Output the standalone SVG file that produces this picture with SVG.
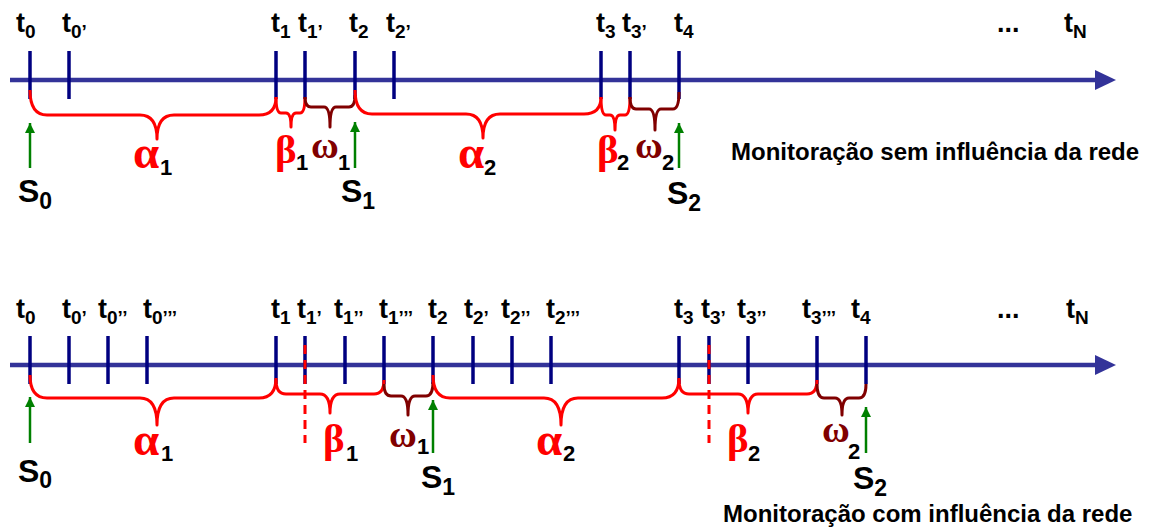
<svg xmlns="http://www.w3.org/2000/svg" width="1150" height="529" viewBox="0 0 1150 529">
<style>
.axis{stroke:#333399;stroke-width:4.5;fill:none}
.head{fill:#333399}
.tick{stroke:#000080;stroke-width:3.5}
.br{fill:none;stroke:#ff0000;stroke-width:3;stroke-linejoin:round}
.bw{fill:none;stroke:#800000;stroke-width:3;stroke-linejoin:round}
.dash{stroke:#ff0000;stroke-width:3;stroke-dasharray:9 6}
.sarr{stroke:#008000;stroke-width:2.5}
.t{font-family:"Liberation Sans",Arial,sans-serif;font-weight:bold;font-size:27px;fill:#000}
.ts{font-size:19px}
.s{font-family:"Liberation Sans",Arial,sans-serif;font-weight:bold;font-size:32px;fill:#000}
.ss{font-size:23px}
.g{font-family:"Liberation Serif","Times New Roman",serif;font-size:41px;font-weight:bold}
.al{font-size:47px}
.om{font-size:38px}
.ga{fill:#ff0000}
.gw{fill:#800000}
.gs{font-family:"Liberation Sans",Arial,sans-serif;font-size:22px;font-weight:bold;fill:#000}
.cap{font-family:"Liberation Sans",Arial,sans-serif;font-weight:bold;font-size:24px;fill:#000}
</style>
<defs>
<marker id="ga" markerUnits="userSpaceOnUse" markerWidth="12" markerHeight="12" refX="10" refY="5" orient="auto">
<path d="M0,0 L10,5 L0,10 Z" fill="#008000"/>
</marker>
</defs>

<!-- ===== TOP TIMELINE ===== -->
<g id="top-axis">
<line class="axis" x1="10" y1="80" x2="1097" y2="80"/>
<polygon class="head" points="1095,70 1116,80 1095,90"/>
</g>
<g id="top-ticks">
<line class="tick" x1="30" y1="51" x2="30" y2="99"/>
<line class="tick" x1="69" y1="51" x2="69" y2="99"/>
<line class="tick" x1="276" y1="51" x2="276" y2="99"/>
<line class="tick" x1="305" y1="51" x2="305" y2="99"/>
<line class="tick" x1="355" y1="51" x2="355" y2="99"/>
<line class="tick" x1="394" y1="51" x2="394" y2="99"/>
<line class="tick" x1="601" y1="51" x2="601" y2="99"/>
<line class="tick" x1="630" y1="51" x2="630" y2="99"/>
<line class="tick" x1="679" y1="51" x2="679" y2="99"/>
</g>
<g id="top-labels">
<text class="t" x="16" y="32">t<tspan class="ts" dy="6">0</tspan></text>
<text class="t" x="62" y="32">t<tspan class="ts" dy="6">0’</tspan></text>
<text class="t" x="271" y="32">t<tspan class="ts" dy="6">1</tspan></text>
<text class="t" x="298" y="32">t<tspan class="ts" dy="6">1’</tspan></text>
<text class="t" x="349" y="32">t<tspan class="ts" dy="6">2</tspan></text>
<text class="t" x="386" y="32">t<tspan class="ts" dy="6">2’</tspan></text>
<text class="t" x="596" y="32">t<tspan class="ts" dy="6">3</tspan></text>
<text class="t" x="622" y="32">t<tspan class="ts" dy="6">3’</tspan></text>
<text class="t" x="674" y="32">t<tspan class="ts" dy="6">4</tspan></text>
<text class="t" x="997" y="32">...</text>
<text class="t" x="1064" y="32">t<tspan class="ts" dy="6">N</tspan></text>
</g>
<g id="top-braces">
<path class="br" d="M30,90 Q30,115 47,115 L140,115 Q157,115 157,139 Q157,115 174,115 L259,115 Q276,115 276,97"/>
<path class="br" d="M276,97 Q276,113 281,113 L286,113 Q291,113 291,127 Q291,113 296,113 L300,113 Q305,113 305,97"/>
<path class="bw" d="M305,97 Q305,107 311,107 L324,107 Q330,107 330,127 Q330,107 336,107 L349,107 Q355,107 355,95"/>
<path class="br" d="M355,90 Q355,114 372,114 L466,114 Q483,114 483,138 Q483,114 500,114 L584,114 Q601,114 601,97"/>
<path class="br" d="M601,97 Q601,115 606,115 L610,115 Q615,115 615,130 Q615,115 620,115 L625,115 Q630,115 630,97"/>
<path class="bw" d="M630,97 Q630,109 636,109 L649,109 Q655,109 655,130 Q655,109 661,109 L673,109 Q679,109 679,92"/>
</g>
<g id="top-greek">
<text class="g al ga" x="133" y="168">α</text><text class="gs" x="160" y="175">1</text>
<text class="g ga" x="275" y="163">β</text><text class="gs" x="296" y="170">1</text>
<text class="g om gw" x="311" y="158">ω</text><text class="gs" x="338" y="170">1</text>
<text class="g al ga" x="458" y="168">α</text><text class="gs" x="484" y="175">2</text>
<text class="g ga" x="597" y="163">β</text><text class="gs" x="617" y="170">2</text>
<text class="g om gw" x="635" y="158">ω</text><text class="gs" x="662" y="170">2</text>
</g>
<g id="top-S">
<line class="sarr" x1="30" y1="168" x2="30" y2="123" marker-end="url(#ga)"/>
<line class="sarr" x1="355" y1="168" x2="355" y2="122" marker-end="url(#ga)"/>
<line class="sarr" x1="679" y1="168" x2="679" y2="123" marker-end="url(#ga)"/>
<text class="s" x="18" y="202">S<tspan class="ss" dy="7">0</tspan></text>
<text class="s" x="341" y="202">S<tspan class="ss" dy="7">1</tspan></text>
<text class="s" x="667" y="204">S<tspan class="ss" dy="7">2</tspan></text>
</g>
<text id="cap-top" class="cap" x="731" y="160">Monitoração sem influência da rede</text>

<!-- ===== BOTTOM TIMELINE ===== -->
<g id="bottom-axis">
<line class="axis" x1="10" y1="365" x2="1097" y2="365"/>
<polygon class="head" points="1095,355 1116,365 1095,375"/>
</g>
<g id="bottom-ticks">
<line class="tick" x1="30" y1="336" x2="30" y2="384"/>
<line class="tick" x1="69" y1="336" x2="69" y2="384"/>
<line class="tick" x1="108" y1="336" x2="108" y2="384"/>
<line class="tick" x1="147" y1="336" x2="147" y2="384"/>
<line class="tick" x1="276" y1="336" x2="276" y2="384"/>
<line class="tick" x1="305" y1="336" x2="305" y2="384"/>
<line class="tick" x1="345" y1="336" x2="345" y2="384"/>
<line class="tick" x1="384" y1="336" x2="384" y2="384"/>
<line class="tick" x1="433" y1="336" x2="433" y2="384"/>
<line class="tick" x1="473" y1="336" x2="473" y2="384"/>
<line class="tick" x1="512" y1="336" x2="512" y2="384"/>
<line class="tick" x1="551" y1="336" x2="551" y2="384"/>
<line class="tick" x1="679" y1="336" x2="679" y2="384"/>
<line class="tick" x1="709" y1="336" x2="709" y2="384"/>
<line class="tick" x1="748" y1="336" x2="748" y2="384"/>
<line class="tick" x1="817" y1="336" x2="817" y2="384"/>
<line class="tick" x1="866" y1="336" x2="866" y2="384"/>
</g>
<g id="bottom-labels">
<text class="t" x="16" y="318">t<tspan class="ts" dy="6">0</tspan></text>
<text class="t" x="62" y="318">t<tspan class="ts" dy="6">0’</tspan></text>
<text class="t" x="98" y="318">t<tspan class="ts" dy="6">0’’</tspan></text>
<text class="t" x="143" y="318">t<tspan class="ts" dy="6">0’’’</tspan></text>
<text class="t" x="271" y="318">t<tspan class="ts" dy="6">1</tspan></text>
<text class="t" x="297" y="318">t<tspan class="ts" dy="6">1’</tspan></text>
<text class="t" x="334" y="318">t<tspan class="ts" dy="6">1’’</tspan></text>
<text class="t" x="379" y="318">t<tspan class="ts" dy="6">1’’’</tspan></text>
<text class="t" x="428" y="318">t<tspan class="ts" dy="6">2</tspan></text>
<text class="t" x="464" y="318">t<tspan class="ts" dy="6">2’</tspan></text>
<text class="t" x="501" y="318">t<tspan class="ts" dy="6">2’’</tspan></text>
<text class="t" x="546" y="318">t<tspan class="ts" dy="6">2’’’</tspan></text>
<text class="t" x="674" y="318">t<tspan class="ts" dy="6">3</tspan></text>
<text class="t" x="701" y="318">t<tspan class="ts" dy="6">3’</tspan></text>
<text class="t" x="737" y="318">t<tspan class="ts" dy="6">3’’</tspan></text>
<text class="t" x="802" y="318">t<tspan class="ts" dy="6">3’’’</tspan></text>
<text class="t" x="851" y="318">t<tspan class="ts" dy="6">4</tspan></text>
<text class="t" x="997" y="318">...</text>
<text class="t" x="1066" y="318">t<tspan class="ts" dy="6">N</tspan></text>
</g>
<g id="bottom-dashes">
<line class="dash" x1="305" y1="345" x2="305" y2="443"/>
<line class="dash" x1="709" y1="345" x2="709" y2="443"/>
</g>
<g id="bottom-braces">
<path class="br" d="M30,375 Q30,398 47,398 L140,398 Q157,398 157,425 Q157,398 174,398 L259,398 Q276,398 276,378"/>
<path class="br" d="M276,380 Q276,394 286,394 L320,394 Q330,394 330,413 Q330,394 340,394 L374,394 Q384,394 384,380"/>
<path class="bw" d="M384,384 Q384,396 391,396 L401,396 Q408,396 408,415 Q408,396 415,396 L426,396 Q433,396 433,382"/>
<path class="br" d="M433,375 Q433,398 450,398 L544,398 Q561,398 561,425 Q561,398 578,398 L662,398 Q679,398 679,378"/>
<path class="br" d="M679,380 Q679,394 689,394 L738,394 Q748,394 748,413 Q748,394 758,394 L807,394 Q817,394 817,380"/>
<path class="bw" d="M817,384 Q817,398 824,398 L835,398 Q842,398 842,415 Q842,398 849,398 L859,398 Q866,398 866,384"/>
</g>
<g id="bottom-greek">
<text class="g al ga" x="133" y="455">α</text><text class="gs" x="161" y="461">1</text>
<text class="g ga" x="323" y="452">β</text><text class="gs" x="346" y="461">1</text>
<text class="g om gw" x="389" y="447">ω</text><text class="gs" x="417" y="454">1</text>
<text class="g al ga" x="536" y="455">α</text><text class="gs" x="563" y="461">2</text>
<text class="g ga" x="727" y="452">β</text><text class="gs" x="748" y="461">2</text>
<text class="g om gw" x="822" y="442">ω</text><text class="gs" x="848" y="459">2</text>
</g>
<g id="bottom-S">
<line class="sarr" x1="30" y1="443" x2="30" y2="397" marker-end="url(#ga)"/>
<line class="sarr" x1="433" y1="453" x2="433" y2="400" marker-end="url(#ga)"/>
<line class="sarr" x1="866" y1="453" x2="866" y2="407" marker-end="url(#ga)"/>
<text class="s" x="18" y="482">S<tspan class="ss" dy="6">0</tspan></text>
<text class="s" x="421" y="488">S<tspan class="ss" dy="7">1</tspan></text>
<text class="s" x="853" y="489">S<tspan class="ss" dy="7">2</tspan></text>
</g>
<text id="cap-bottom" class="cap" x="723" y="522">Monitoração com influência da rede</text>
</svg>
